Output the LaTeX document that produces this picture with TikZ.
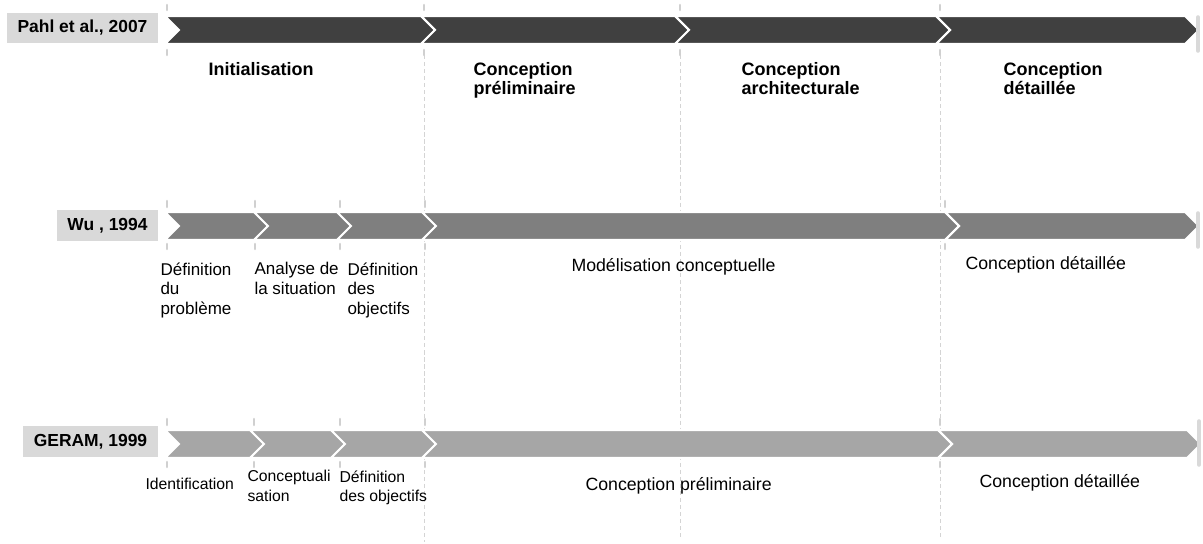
\documentclass[tikz,border=0pt]{standalone}
\usepackage{fontspec}
\setmainfont{Liberation Sans}
\definecolor{pahlfill}{HTML}{404040}
\definecolor{wufill}{HTML}{7F7F7F}
\definecolor{geramfill}{HTML}{A6A6A6}
\definecolor{boxgray}{HTML}{D9D9D9}
\definecolor{tickgray}{HTML}{D0D0D0}
\definecolor{guidegray}{HTML}{D4D4D4}

\tikzset{every picture/.style={line width=0.75pt}}
\tikzset{
	yearbox/.style={fill=boxgray,inner sep=0pt,minimum height=0.77cm,font=\bfseries\fontsize{12.4}{14}\selectfont},
	headtext/.style={anchor=north west,inner sep=0pt,align=left,font=\bfseries\fontsize{12.8}{13.5}\selectfont},
	steptext/.style={anchor=north west,inner sep=0pt,align=left,font=\fontsize{12.1}{13.9}\selectfont},
	widetext/.style={anchor=north west,inner sep=0pt,align=left,font=\fontsize{12.6}{14}\selectfont},
	smalltext/.style={anchor=north west,inner sep=0pt,align=left,font=\fontsize{11.2}{14}\selectfont},
	chev/.style={draw=white,line width=1.5pt},
	tickmark/.style={draw=tickgray,line width=1.8pt,line cap=round},
	endmark/.style={draw=boxgray,line width=2.5pt,line cap=round},
	guide/.style={draw=guidegray,densely dashed,line width=0.7pt}
}

\begin{document}
\begin{tikzpicture}[x=0.025cm,y=-0.025cm]
			\useasboundingbox (0,0) rectangle (1203,544);

			% guide lines behind the bars
			\draw[guide] (424,55) -- (424,542);
			\draw[guide] (680,55) -- (680,538);
			\draw[guide] (940,55) -- (940,538);

			% Pahl et al.
			\node [yearbox,minimum width=3.775cm](pahl) at (82.5,28) {Pahl et al., 2007};
			\foreach \a/\b in {165/421,421/675,675/936,936/1185}
				\filldraw[chev,fill=pahlfill] (\a,16) -- (\b,16) -- (\b+14,30) -- (\b,44) -- (\a,44) -- (\a+14,30) -- cycle;
			\foreach \x in {167,424,680,940} {
				\draw[tickmark] (\x,5) -- (\x,10);
				\draw[tickmark] (\x,50) -- (\x,55);
			}
			\draw[endmark] (1198,17) -- (1198,51);

			% Wu
			\node [yearbox,minimum width=2.525cm](wu) at (107.5,225.5) {Wu , 1994};
			\foreach \a/\b in {165/254,254/337,337/422,422/945,945/1185}
				\filldraw[chev,fill=wufill] (\a,212) -- (\b,212) -- (\b+14,226) -- (\b,240) -- (\a,240) -- (\a+14,226) -- cycle;
			\foreach \x in {167,255,340,425,945} {
				\draw[tickmark] (\x,201) -- (\x,207);
				\draw[tickmark] (\x,244) -- (\x,249);
			}
			\draw[endmark] (1198,213) -- (1198,247);

			% GERAM
			\node [yearbox,minimum width=3.375cm](geram) at (90.5,441.5) {GERAM, 1999};
			\foreach \a/\b in {165/250,250/331,331/422,422/938,938/1187}
				\filldraw[chev,fill=geramfill] (\a,430) -- (\b,430) -- (\b+14,444) -- (\b,458) -- (\a,458) -- (\a+14,444) -- cycle;
			\foreach \x in {167,254,340,425,940} {
				\draw[tickmark] (\x,419) -- (\x,425);
				\draw[tickmark] (\x,462) -- (\x,467);
			}
			\draw[endmark] (1199,421) -- (1199,465);

			% phase names
			\node [headtext](init) at (208,62) {Initialisation};
			\node [headtext](prelim) at (473,62) {Conception\\préliminaire};
			\node [headtext](archi) at (741,62) {Conception\\architecturale};
			\node [headtext](detail) at (1003,62) {Conception\\détaillée};

			\node [steptext](wudef) at (160,262) {Définition\\du\\problème};
			\node [steptext](wuana) at (254,262) {Analyse de\\la situation};
			\node [steptext](wuobj) at (347,262) {Définition\\des\\objectifs};
			\node [widetext](wumod) at (571,258) {Modélisation conceptuelle};
			\node [widetext](wudet) at (965,256) {Conception détaillée};

			\node [smalltext](geid) at (145,478) {Identification};
			\node [smalltext](geconc) at (247,470) {Conceptuali\\sation};
			\node [smalltext](geobj) at (339,470) {Définition\\des objectifs};
			\node [widetext](geprelim) at (585,477) {Conception préliminaire};
			\node [widetext](gedet) at (979,474) {Conception détaillée};
		\end{tikzpicture}
\end{document}
